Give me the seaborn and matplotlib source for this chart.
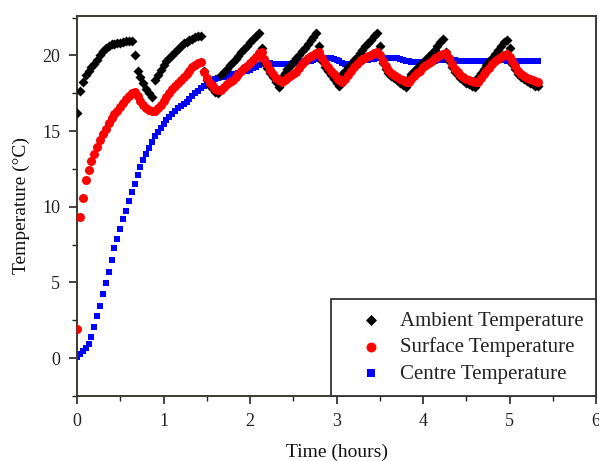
import matplotlib
matplotlib.use("Agg")
import matplotlib.pyplot as plt
import seaborn as sns
import pandas as pd
from matplotlib.ticker import MultipleLocator

# Sampling times (minutes)
minutes = [0, 2, 4, 6, 8, 10, 12, 14, 16, 18, 20, 22, 24, 26, 28, 30, 32, 34, 36, 38,
           40, 42, 44, 46, 48, 50, 52, 54, 56, 58, 60, 62, 64, 66, 68, 70, 72, 74, 76, 78,
           80, 82, 84, 86, 88, 90, 92, 94, 96, 98, 100, 102, 104, 106, 108, 110, 112, 114, 116, 118,
           120, 122, 124, 126, 128, 130, 132, 134, 136, 138, 140, 142, 144, 146, 148, 150, 152, 154, 156, 158,
           160, 162, 164, 166, 168, 170, 172, 174, 176, 178, 180, 182, 184, 186, 188, 190, 192, 194, 196, 198,
           200, 202, 204, 206, 208, 210, 212, 214, 216, 218, 220, 222, 224, 226, 228, 230, 232, 234, 236, 238,
           240, 242, 244, 246, 248, 250, 252, 254, 256, 258, 260, 262, 264, 266, 268, 270, 272, 274, 276, 278,
           280, 282, 284, 286, 288, 290, 292, 294, 296, 298, 300, 302, 304, 306, 308, 310, 312, 314, 316, 318,
           320]

ambient = [16.2, 17.65, 18.25, 18.7, 18.95, 19.2, 19.45, 19.7, 20.0, 20.3,
           20.5, 20.65, 20.72, 20.76, 20.8, 20.83, 20.87, 20.92, 20.95, 20.95,
           20.0, 18.95, 18.55, 18.15, 17.8, 17.5, 17.26, 18.35, 18.7, 19.05,
           19.35, 19.6, 19.8, 20.05, 20.25, 20.45, 20.65, 20.8, 20.9, 21.0,
           21.1, 21.18, 21.25, 21.3, 19.0, 18.4, 18.0, 17.8, 17.6, 17.5,
           18.7, 18.9, 19.1, 19.35, 19.55, 19.75, 19.95, 20.2, 20.4, 20.6,
           20.85, 21.05, 21.3, 21.5, 20.5, 19.5, 19.15, 18.85, 18.55, 18.25,
           17.9, 18.6, 18.85, 19.1, 19.3, 19.55, 19.8, 20.05, 20.3, 20.5,
           20.75, 21.0, 21.2, 21.45, 20.6, 19.6, 19.25, 18.95, 18.7, 18.45,
           18.2, 17.95, 18.8, 19.0, 19.25, 19.45, 19.7, 19.9, 20.15, 20.35,
           20.6, 20.8, 21.0, 21.25, 21.45, 20.6, 19.5, 19.1, 18.85, 18.65,
           18.5, 18.35, 18.2, 18.05, 17.9, 18.5, 18.75, 18.95, 19.15, 19.35,
           19.55, 19.75, 19.95, 20.15, 20.35, 20.6, 20.85, 21.1, 20.2, 19.6,
           19.2, 18.9, 18.7, 18.5, 18.35, 18.2, 18.1, 18.0, 17.9, 18.6,
           18.85, 19.1, 19.35, 19.6, 19.85, 20.1, 20.35, 20.6, 20.85, 21.0,
           20.5, 19.4, 19.1, 18.8, 18.6, 18.45, 18.3, 18.2, 18.1, 18.0,
           17.95]

surface = [1.9, 9.3, 10.6, 11.75, 12.4, 13.0, 13.5, 13.95, 14.4, 14.8,
           15.15, 15.5, 15.85, 16.1, 16.35, 16.6, 16.85, 17.1, 17.3, 17.5,
           17.6, 17.3, 17.0, 16.75, 16.55, 16.4, 16.3, 16.3, 16.5, 16.75,
           17.0, 17.25, 17.5, 17.75, 17.95, 18.2, 18.4, 18.6, 18.8, 19.0,
           19.2, 19.35, 19.5, 19.57, 18.9, 18.5, 18.2, 18.0, 17.8, 17.7,
           17.7, 17.9, 18.1, 18.25, 18.4, 18.6, 18.8, 18.95, 19.15, 19.3,
           19.5, 19.7, 19.9, 20.15, 20.2, 19.75, 19.4, 19.05, 18.75, 18.5,
           18.35, 18.25, 18.4, 18.5, 18.65, 18.75, 18.9, 19.15, 19.4, 19.6,
           19.8, 19.95, 20.05, 20.15, 20.2, 19.85, 19.5, 19.2, 19.0, 18.75,
           18.5, 18.35, 18.25, 18.45, 18.7, 18.95, 19.2, 19.45, 19.6, 19.75,
           19.85, 19.95, 20.05, 20.15, 20.2, 20.0, 19.6, 19.3, 19.05, 18.85,
           18.7, 18.55, 18.45, 18.35, 18.25, 18.25, 18.45, 18.65, 18.85, 19.0,
           19.2, 19.35, 19.5, 19.65, 19.8, 19.9, 20.0, 20.1, 20.15, 19.8,
           19.4, 19.1, 18.9, 18.7, 18.55, 18.45, 18.35, 18.3, 18.25, 18.25,
           18.5, 18.75, 18.95, 19.15, 19.4, 19.6, 19.75, 19.9, 20.0, 20.1,
           19.9, 19.6, 19.3, 19.0, 18.8, 18.65, 18.5, 18.45, 18.35, 18.3,
           18.25]

centre = [0.1, 0.3, 0.5, 0.7, 0.95, 1.4, 2.07, 2.8, 3.45, 4.25,
          4.95, 5.7, 6.5, 7.25, 7.85, 8.5, 9.2, 9.75, 10.4, 10.95,
          11.5, 12.1, 12.6, 13.1, 13.5, 13.9, 14.3, 14.65, 14.95, 15.2,
          15.45, 15.7, 15.9, 16.1, 16.3, 16.5, 16.65, 16.8, 16.95, 17.15,
          17.3, 17.5, 17.65, 17.85, 18.0, 18.15, 18.3, 18.4, 18.45, 18.5,
          18.55, 18.6, 18.65, 18.7, 18.75, 18.8, 18.85, 18.9, 18.95, 19.0,
          19.05, 19.15, 19.25, 19.35, 19.4, 19.45, 19.5, 19.5, 19.45, 19.45,
          19.45, 19.45, 19.45, 19.45, 19.45, 19.5, 19.5, 19.55, 19.55, 19.6,
          19.65, 19.65, 19.7, 19.75, 19.8, 19.8, 19.8, 19.8, 19.8, 19.75,
          19.7, 19.6, 19.5, 19.45, 19.45, 19.45, 19.5, 19.55, 19.6, 19.65,
          19.7, 19.7, 19.75, 19.75, 19.8, 19.8, 19.8, 19.8, 19.8, 19.8,
          19.8, 19.8, 19.75, 19.7, 19.65, 19.6, 19.55, 19.55, 19.55, 19.55,
          19.55, 19.6, 19.6, 19.65, 19.65, 19.7, 19.7, 19.7, 19.7, 19.7,
          19.7, 19.7, 19.65, 19.65, 19.65, 19.6, 19.6, 19.6, 19.6, 19.6,
          19.6, 19.65, 19.65, 19.65, 19.7, 19.7, 19.7, 19.7, 19.7, 19.65,
          19.65, 19.6, 19.6, 19.6, 19.6, 19.6, 19.6, 19.6, 19.6, 19.6,
          19.6]

series_labels = ["Ambient Temperature", "Surface Temperature", "Centre Temperature"]
x_ticks = [0, 1, 2, 3, 4, 5, 6]
y_ticks = [0, 5, 10, 15, 20]

df = pd.DataFrame({"hours": [m / 60 for m in minutes],
                   "ambient": ambient, "surface": surface, "centre": centre})

sns.set_style("ticks")
plt.rcParams["font.family"] = ["Liberation Serif", "DejaVu Serif"]

fig = plt.figure(figsize=(5.99, 4.61), dpi=100)
ax = fig.add_axes([77 / 599, 1 - 396 / 461, (596 - 77) / 599, (396 - 16) / 461])

sns.scatterplot(data=df, x="hours", y="ambient", ax=ax, marker="D", color="black",
                s=26, linewidth=0, label=series_labels[0], zorder=3)
sns.scatterplot(data=df, x="hours", y="surface", ax=ax, marker="o", color="#ff0000",
                s=42, linewidth=0, label=series_labels[1], zorder=4)
sns.scatterplot(data=df, x="hours", y="centre", ax=ax, marker="s", color="#0000ff",
                s=22, linewidth=0, label=series_labels[2], zorder=2)

ax.set_xlim(0, 6)
ax.set_ylim(-2.5, 22.6)
ax.set_xticks(x_ticks)
ax.set_yticks(y_ticks)
ax.xaxis.set_minor_locator(MultipleLocator(0.5))
ax.yaxis.set_minor_locator(MultipleLocator(2.5))
ax.tick_params(which="major", direction="out", length=6, width=1.2, labelsize=13,
               colors="#222222", pad=6)
ax.tick_params(which="minor", direction="out", length=3.5, width=1.0, colors="#222222")
for sp in ax.spines.values():
    sp.set_visible(True)
    sp.set_color("#3a3a30")
    sp.set_linewidth(1.4)

ax.set_xlabel("Time (hours)", fontsize=14, color="#111111", labelpad=10)
ax.set_ylabel("Temperature (\u00b0C)", fontsize=14, color="#111111", labelpad=9)

leg = ax.legend(loc="lower right", borderaxespad=0, prop={"size": 15}, frameon=True,
                fancybox=False, framealpha=1, edgecolor="#333333",
                handlelength=2.6, handletextpad=0.1, borderpad=0.6,
                labelspacing=0.32, markerscale=1.1)
leg.get_frame().set_linewidth(1.3)
for t in leg.get_texts():
    t.set_color("#222222")

fig.savefig("out.png", dpi=100)
